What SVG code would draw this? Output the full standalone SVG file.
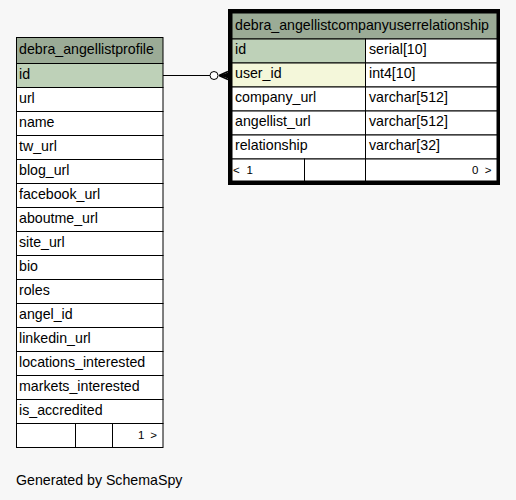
<svg xmlns="http://www.w3.org/2000/svg" width="516" height="500" viewBox="0 0 516 500">
<style>
text{font-family:"Liberation Sans",Arial,sans-serif;font-size:14.2px;fill:#000}
.ft{font-size:11.5px}
.hd{fill:#9bab96;stroke:#000;stroke-width:1}
.pk{fill:#bed1b8;stroke:#000;stroke-width:1}
.fk{fill:#f4f7da;stroke:#000;stroke-width:1}
.c{fill:#fff;stroke:#000;stroke-width:1}
</style>
<rect width="516" height="500" fill="#f7f7f7"/>
<g id="connectors" stroke="#000" fill="none">
<line x1="163" y1="75.5" x2="210" y2="75.5"/>
<circle cx="214" cy="75.5" r="4" fill="#fff"/>
<path d="M219 75.5 L228 71.5 M219 75.5 L228 75.5 M219 75.5 L228 79.5" stroke-width="1.5"/>
<polygon points="220,75.5 228,72.5 228,78.5" fill="#000" stroke="none"/>
</g>
<g id="debra_angellistprofile">
<rect class="hd" x="16.5" y="37.5" width="146.5" height="26"/>
<text x="19" y="54">debra_angellistprofile</text>
<rect class="pk" x="16.5" y="63.5" width="146.5" height="24"/>
<text x="19" y="78.5">id</text>
<rect class="c" x="16.5" y="87.5" width="146.5" height="24"/>
<text x="19" y="102.5">url</text>
<rect class="c" x="16.5" y="111.5" width="146.5" height="24"/>
<text x="19" y="126.5">name</text>
<rect class="c" x="16.5" y="135.5" width="146.5" height="24"/>
<text x="19" y="150.5">tw_url</text>
<rect class="c" x="16.5" y="159.5" width="146.5" height="24"/>
<text x="19" y="174.5">blog_url</text>
<rect class="c" x="16.5" y="183.5" width="146.5" height="24"/>
<text x="19" y="198.5">facebook_url</text>
<rect class="c" x="16.5" y="207.5" width="146.5" height="24"/>
<text x="19" y="222.5">aboutme_url</text>
<rect class="c" x="16.5" y="231.5" width="146.5" height="24"/>
<text x="19" y="246.5">site_url</text>
<rect class="c" x="16.5" y="255.5" width="146.5" height="24"/>
<text x="19" y="270.5">bio</text>
<rect class="c" x="16.5" y="279.5" width="146.5" height="24"/>
<text x="19" y="294.5">roles</text>
<rect class="c" x="16.5" y="303.5" width="146.5" height="24"/>
<text x="19" y="318.5">angel_id</text>
<rect class="c" x="16.5" y="327.5" width="146.5" height="24"/>
<text x="19" y="342.5">linkedin_url</text>
<rect class="c" x="16.5" y="351.5" width="146.5" height="24"/>
<text x="19" y="366.5">locations_interested</text>
<rect class="c" x="16.5" y="375.5" width="146.5" height="24"/>
<text x="19" y="390.5">markets_interested</text>
<rect class="c" x="16.5" y="399.5" width="146.5" height="24"/>
<text x="19" y="414.5">is_accredited</text>
<rect class="c" x="16.5" y="423.5" width="59" height="24"/>
<rect class="c" x="75.5" y="423.5" width="37" height="24"/>
<rect class="c" x="112.5" y="423.5" width="50.5" height="24"/>
<text class="ft" x="138" y="439" textLength="19" lengthAdjust="spacing">1 &gt;</text>
</g>
<g id="debra_angellistcompanyuserrelationship">
<rect x="230" y="11" width="268" height="172" fill="none" stroke="#000" stroke-width="4"/>
<rect class="hd" x="232" y="13" width="265" height="26"/>
<text x="235" y="29.5">debra_angellistcompanyuserrelationship</text>
<rect class="pk" x="232" y="39" width="133.5" height="24"/>
<rect class="c" x="365.5" y="39" width="131.5" height="24"/>
<text x="235" y="54">id</text>
<text x="369" y="54">serial[10]</text>
<rect class="fk" x="232" y="63" width="133.5" height="24"/>
<rect class="c" x="365.5" y="63" width="131.5" height="24"/>
<text x="235" y="78">user_id</text>
<text x="369" y="78">int4[10]</text>
<rect class="c" x="232" y="87" width="133.5" height="24"/>
<rect class="c" x="365.5" y="87" width="131.5" height="24"/>
<text x="235" y="102">company_url</text>
<text x="369" y="102">varchar[512]</text>
<rect class="c" x="232" y="111" width="133.5" height="24"/>
<rect class="c" x="365.5" y="111" width="131.5" height="24"/>
<text x="235" y="126">angellist_url</text>
<text x="369" y="126">varchar[512]</text>
<rect class="c" x="232" y="135" width="133.5" height="24"/>
<rect class="c" x="365.5" y="135" width="131.5" height="24"/>
<text x="235" y="150">relationship</text>
<text x="369" y="150">varchar[32]</text>
<rect class="c" x="232" y="159" width="72.5" height="22"/>
<rect class="c" x="304.5" y="159" width="61" height="22"/>
<rect class="c" x="365.5" y="159" width="131.5" height="22"/>
<text class="ft" x="233" y="174" textLength="20" lengthAdjust="spacing">&lt; 1</text>
<text class="ft" x="472" y="174" textLength="19.5" lengthAdjust="spacing">0 &gt;</text>
</g>
<text x="16" y="485">Generated by SchemaSpy</text>
</svg>
